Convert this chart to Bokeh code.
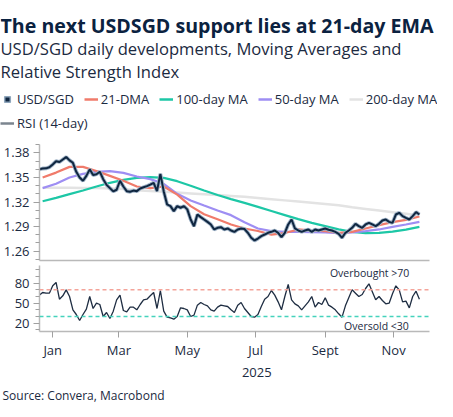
import pandas as pd
from datetime import datetime
from bokeh.plotting import figure
from bokeh.models import (ColumnDataSource, Range1d, FixedTicker, PrintfTickFormatter,
                          CustomJSTickFormatter, LinearAxis, Span, Label, Legend, LegendItem)
from bokeh.layouts import column
from bokeh.embed import file_html
from bokeh.resources import INLINE

# ---------------- data ----------------
# USD/SGD close, sampled every 3 calendar days from 2024-12-20
usdsgd = [1.3600, 1.3610, 1.3612, 1.3626, 1.3660, 1.3700, 1.3690, 1.3720, 1.3750, 1.3710,
          1.3680, 1.3570, 1.3500, 1.3460, 1.3520, 1.3600, 1.3530, 1.3540, 1.3570, 1.3480,
          1.3410, 1.3370, 1.3330, 1.3350, 1.3460, 1.3390, 1.3333, 1.3325, 1.3340, 1.3333,
          1.3365, 1.3380, 1.3394, 1.3414, 1.3435, 1.3333, 1.3545, 1.3330, 1.3170, 1.3150,
          1.3088, 1.3150, 1.3130, 1.3150, 1.3110, 1.2986, 1.2904, 1.3047, 1.3015, 1.2986,
          1.2957, 1.2925, 1.2864, 1.2884, 1.2892, 1.2864, 1.2876, 1.2851, 1.2835, 1.2864,
          1.2876, 1.2870, 1.2823, 1.2762, 1.2729, 1.2753, 1.2782, 1.2802, 1.2823, 1.2835,
          1.2851, 1.2823, 1.2770, 1.2823, 1.2925, 1.2986, 1.2876, 1.2851, 1.2835, 1.2851,
          1.2864, 1.2835, 1.2864, 1.2851, 1.2864, 1.2876, 1.2860, 1.2851, 1.2835, 1.2811,
          1.2762, 1.2823, 1.2851, 1.2884, 1.2933, 1.2904, 1.2884, 1.2925, 1.2945, 1.2925,
          1.2904, 1.2933, 1.2974, 1.2986, 1.2957, 1.2945, 1.3047, 1.3068, 1.3027, 1.3006,
          1.2986, 1.3027, 1.3076, 1.3047]

# RSI (14-day), same dates as usdsgd
rsi14 = [62, 66, 65, 65, 76, 81, 56, 61, 70, 60,
         40, 33, 24, 33, 41, 60, 42, 50, 48, 30,
         36, 27, 38, 55, 62, 39, 37, 44, 44, 40,
         48, 55, 56, 61, 66, 42, 69, 38, 29, 28,
         26, 30, 43, 42, 40, 30, 32, 47, 51, 48,
         46, 40, 38, 44, 47, 46, 45, 40, 36, 47,
         51, 42, 36, 30, 29, 33, 45, 56, 60, 69,
         62, 52, 40, 60, 78, 55, 49, 46, 40, 46,
         52, 60, 44, 51, 48, 58, 47, 44, 40, 34,
         29, 46, 58, 70, 65, 60, 63, 72, 79, 67,
         55, 60, 54, 49, 50, 64, 76, 70, 52, 53,
         43, 60, 68, 56]

# Moving averages, sampled every 12 calendar days from 2024-12-23
dma21 = [1.3500, 1.3560, 1.3630, 1.3630, 1.3580, 1.3520, 1.3460, 1.3390, 1.3370, 1.3390,
         1.3290, 1.3150, 1.3050, 1.2990, 1.2925, 1.2876, 1.2845, 1.2800, 1.2820, 1.2864,
         1.2850, 1.2843, 1.2823, 1.2835, 1.2876, 1.2917, 1.2953, 1.2982, 1.3023]
ma50 = [1.3370, 1.3423, 1.3500, 1.3545, 1.3570, 1.3578, 1.3557, 1.3512, 1.3480, 1.3423,
        1.3300, 1.3219, 1.3157, 1.3096, 1.3039, 1.2953, 1.2876, 1.2843, 1.2835, 1.2835,
        1.2831, 1.2827, 1.2819, 1.2827, 1.2843, 1.2864, 1.2896, 1.2925, 1.2957]
ma100 = [1.3210, 1.3251, 1.3296, 1.3341, 1.3390, 1.3435, 1.3471, 1.3496, 1.3504, 1.3496,
         1.3455, 1.3400, 1.3340, 1.3285, 1.3235, 1.3190, 1.3140, 1.3090, 1.3040, 1.2990,
         1.2945, 1.2905, 1.2865, 1.2835, 1.2818, 1.2822, 1.2838, 1.2862, 1.2895]
ma200 = [1.3375, 1.3375, 1.3375, 1.3372, 1.3370, 1.3365, 1.3360, 1.3345, 1.3335, 1.3325,
         1.3315, 1.3305, 1.3295, 1.3285, 1.3275, 1.3265, 1.3250, 1.3235, 1.3220, 1.3205,
         1.3190, 1.3175, 1.3160, 1.3135, 1.3115, 1.3095, 1.3075, 1.3055, 1.3035]

month_ticks = ["2025-01-01", "2025-03-01", "2025-05-01", "2025-07-01", "2025-09-01", "2025-11-01"]
month_labels = ["Jan", "Mar", "May", "Jul", "Sept", "Nov"]
year_label = "2025"
price_ticks = [1.26, 1.29, 1.32, 1.35, 1.38]
rsi_ticks = [20, 50, 80]
overbought, oversold = 70, 30

price_dates = pd.date_range("2024-12-20", periods=len(usdsgd), freq="3D")
ma_dates = pd.date_range("2024-12-23", periods=len(dma21), freq="12D")

# ---------------- styling ----------------
FONT = "Open Sans"
TXT = "#1b2a41"
AXC = "#b9b9b9"
W = 437
BL, BR = 36, 8


def ms(s):
    return pd.Timestamp(s).value / 1e6


# ---------------- header ----------------
HH = 137
header = figure(width=W, height=HH, x_range=Range1d(0, W), y_range=Range1d(HH, 0),
                x_axis_location=None, y_axis_location=None, output_backend="svg",
                toolbar_location=None, min_border_left=0, min_border_right=0,
                min_border_top=0, min_border_bottom=0, outline_line_color=None)
header.grid.visible = False
header.add_layout(Label(x=0, y=24.5, text="The next USDSGD support lies at 21-day EMA",
                        text_font=FONT, text_font_size="19.6px", text_font_style="bold",
                        text_color="#0b2240", text_baseline="alphabetic"))
header.add_layout(Label(x=0, y=47.5, text="USD/SGD daily developments, Moving Averages and",
                        text_font=FONT, text_font_size="16.6px", text_color=TXT,
                        text_baseline="alphabetic"))
header.add_layout(Label(x=0, y=71, text="Relative Strength Index",
                        text_font=FONT, text_font_size="16.6px", text_color=TXT,
                        text_baseline="alphabetic"))

nan = float("nan")
dummy = ColumnDataSource(data=dict(x=[nan], y=[nan]))
g_usd = header.scatter(x="x", y="y", source=dummy, marker="square", size=8,
                       fill_color="#0f2640", line_color="#8fa6bc", line_width=1.5)
g_21 = header.line(x="x", y="y", source=dummy, line_color="#f07b6b", line_width=2.5)
g_100 = header.line(x="x", y="y", source=dummy, line_color="#1dc7a6", line_width=2.5)
g_50 = header.line(x="x", y="y", source=dummy, line_color="#9e8ef3", line_width=2.5)
g_200 = header.line(x="x", y="y", source=dummy, line_color="#e3e3e3", line_width=2.5)
g_rsi = header.line(x="x", y="y", source=dummy, line_color="#7b858f", line_width=2.5)

leg_style = dict(orientation="horizontal", label_text_font=FONT, label_text_font_size="13px",
                 label_text_color=TXT, glyph_width=14, glyph_height=14, label_height=16,
                 label_standoff=3, spacing=10, padding=0, margin=0,
                 border_line_color=None, background_fill_alpha=0)
leg1 = Legend(items=[LegendItem(label="USD/SGD", renderers=[g_usd]),
                     LegendItem(label="21-DMA", renderers=[g_21]),
                     LegendItem(label="100-day MA", renderers=[g_100]),
                     LegendItem(label="50-day MA", renderers=[g_50]),
                     LegendItem(label="200-day MA", renderers=[g_200])],
              location=(0, 29), **leg_style)
leg2 = Legend(items=[LegendItem(label="RSI (14-day)", renderers=[g_rsi])],
              location=(0, 5), **leg_style)
header.add_layout(leg1)
header.add_layout(leg2)

# ---------------- shared x range ----------------
x_range = Range1d(datetime(2024, 12, 20, 5), datetime(2025, 12, 3))


def style_y(ax):
    ax.axis_line_color = AXC
    ax.axis_line_width = 1.5
    ax.major_tick_line_color = "#a0a0a0"
    ax.minor_tick_line_color = "#a0a0a0"
    ax.major_tick_in = 0
    ax.minor_tick_in = 0
    ax.major_tick_out = 6
    ax.minor_tick_out = 4
    ax.major_label_standoff = 4
    ax.major_label_text_font = FONT
    ax.major_label_text_font_size = "13px"
    ax.major_label_text_color = TXT


# ---------------- price panel ----------------
p = figure(width=W, height=126, x_range=x_range, y_range=Range1d(1.2484, 1.3904),
           x_axis_type="datetime", output_backend="svg", toolbar_location=None,
           min_border_left=BL, min_border_right=BR, min_border_top=7, min_border_bottom=3,
           outline_line_color=None)
p.grid.visible = False
p.yaxis.ticker = FixedTicker(ticks=price_ticks,
                             minor_ticks=[round(1.25 + 0.01 * i, 2) for i in range(15)])
p.yaxis.formatter = PrintfTickFormatter(format="%.2f")
style_y(p.yaxis[0])
p.xaxis.ticker = FixedTicker(ticks=[], minor_ticks=[])
p.xaxis.axis_line_color = AXC
p.xaxis.axis_line_width = 1.5
p.xaxis.major_tick_out = 0
p.xaxis.major_tick_in = 0
p.xaxis.minor_tick_out = 0
p.xaxis.minor_tick_in = 0
p.xaxis.major_label_standoff = 0

ma_src = ColumnDataSource(data=dict(d=ma_dates, m21=dma21, m50=ma50, m100=ma100, m200=ma200))
px_src = ColumnDataSource(data=dict(d=price_dates, v=usdsgd, r=rsi14))
p.line("d", "m200", source=ma_src, line_color="#e3e3e3", line_width=2.5)
p.line("d", "m100", source=ma_src, line_color="#1dc7a6", line_width=2.2)
p.line("d", "m50", source=ma_src, line_color="#9e8ef3", line_width=2.2)
p.line("d", "m21", source=ma_src, line_color="#f07b6b", line_width=2.2)
p.line("d", "v", source=px_src, line_color="#9fb2c6", line_width=3.8)
p.line("d", "v", source=px_src, line_color="#0f2640", line_width=2.0)

# ---------------- RSI panel ----------------
r = figure(width=W, height=116, x_range=x_range, y_range=Range1d(7.5, 106.5),
           x_axis_type="datetime", output_backend="svg", toolbar_location=None,
           min_border_left=BL, min_border_right=BR, min_border_top=2, min_border_bottom=47,
           outline_line_color=None)
r.grid.visible = False
r.yaxis.ticker = FixedTicker(ticks=rsi_ticks, minor_ticks=[10, 30, 40, 60, 70, 90, 100])
r.yaxis.formatter = PrintfTickFormatter(format="%.0f")
style_y(r.yaxis[0])

month_ms = [ms(s) for s in month_ticks]
r.xaxis.ticker = FixedTicker(ticks=month_ms, minor_ticks=[])
r.xaxis.formatter = CustomJSTickFormatter(
    args=dict(mticks=month_ms, mlabels=month_labels),
    code="const i = mticks.indexOf(tick); return i >= 0 ? mlabels[i] : '';")
xa = r.xaxis[0]
xa.axis_line_color = AXC
xa.axis_line_width = 1.5
xa.major_tick_line_color = "#a0a0a0"
xa.major_tick_in = 0
xa.major_tick_out = 6
xa.major_label_standoff = 3
xa.major_label_text_font = FONT
xa.major_label_text_font_size = "13px"
xa.major_label_text_color = TXT

year_ax = LinearAxis(ticker=FixedTicker(ticks=[ms("2025-07-02")], minor_ticks=[]),
                     formatter=CustomJSTickFormatter(args=dict(ylab=year_label), code="return ylab;"),
                     axis_line_color=None, major_tick_line_color=None, minor_tick_line_color=None,
                     major_tick_out=0, major_tick_in=0, minor_tick_out=0, minor_tick_in=0,
                     major_label_standoff=6, major_label_text_font=FONT,
                     major_label_text_font_size="13px", major_label_text_color=TXT)
r.add_layout(year_ax, "below")

r.add_layout(Span(location=overbought, dimension="width", line_color="#f4a49a",
                  line_dash="4 3", line_width=1.5))
r.add_layout(Span(location=oversold, dimension="width", line_color="#45d2bc",
                  line_dash="4 3", line_width=1.5))
r.line("d", "r", source=px_src, line_color="#1e2d42", line_width=1.3)
r.add_layout(Label(x=ms("2025-11-15"), y=95, text="Overbought >70", text_align="right",
                   text_baseline="middle", text_font=FONT, text_font_size="10.5px",
                   text_color=TXT))
r.add_layout(Label(x=ms("2025-11-17"), y=16.5, text="Oversold  <30", text_align="right",
                   text_baseline="middle", text_font=FONT, text_font_size="10.5px",
                   text_color=TXT))

# ---------------- footer ----------------
FH = 25
footer = figure(width=W, height=FH, x_range=Range1d(0, W), y_range=Range1d(FH, 0),
                x_axis_location=None, y_axis_location=None, output_backend="svg",
                toolbar_location=None, min_border_left=0, min_border_right=0,
                min_border_top=0, min_border_bottom=0, outline_line_color=None)
footer.grid.visible = False
footer.add_layout(Label(x=2, y=15.5, text="Source: Convera, Macrobond", text_font=FONT,
                        text_font_size="12px", text_color=TXT, text_baseline="alphabetic"))

layout = column(column(header), column(p, r, spacing=0), column(footer), spacing=0)
open("out.html", "w").write(file_html(layout, INLINE))
